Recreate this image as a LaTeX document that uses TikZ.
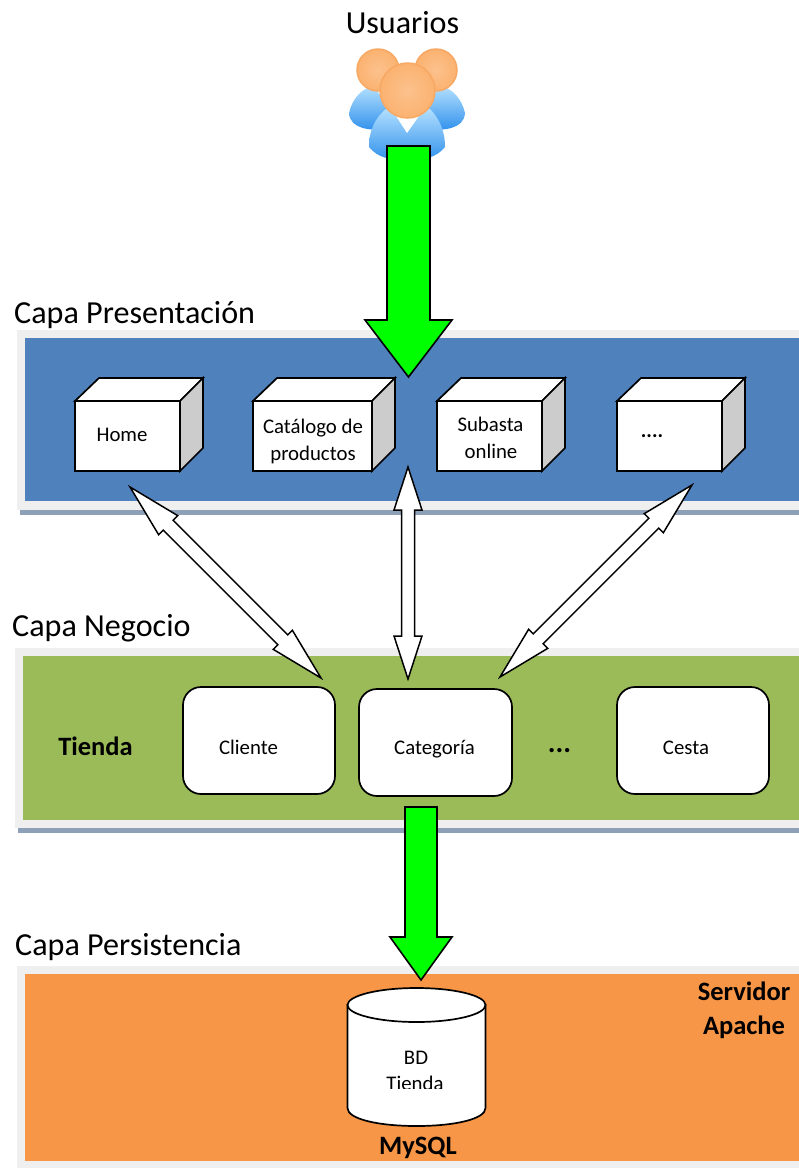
\documentclass[tikz,border=0pt]{standalone}
\usepackage{fontspec}
\setmainfont{Carlito}
\usetikzlibrary{calc,shapes.geometric}
\definecolor{bandgrey}{HTML}{EFEFEF}
\definecolor{bandshadow}{HTML}{8E9FB8}
\definecolor{layerblue}{HTML}{4F81BD}
\definecolor{layergreen}{HTML}{9BBB59}
\definecolor{layerorange}{HTML}{F79646}
\definecolor{sidegrey}{HTML}{CCCCCC}
\definecolor{headfill}{HTML}{FBB270}
\definecolor{headrim}{HTML}{F7A964}
\definecolor{bodytop}{HTML}{B4E0FF}
\definecolor{bodybot}{HTML}{3292EC}
\tikzset{
  outline/.style={draw=black,line width=1.7pt,line join=miter},
  roundbox/.style={outline,fill=white,rounded corners=18pt,outer sep=0pt,inner sep=0pt},
  greenarrow/.style={outline,fill=green,line width=1.6pt},
  whitearrow/.style={outline,fill=white,line width=1.5pt},
  title/.style={inner sep=0pt,anchor=base west,font=\fontsize{32.1}{36}\selectfont},
  boxtext/.style={inner sep=0pt,anchor=base,font=\fontsize{20.8}{25}\selectfont},
  boldtext/.style={inner sep=0pt,anchor=base,font=\fontsize{26.5}{30}\selectfont\bfseries},
  bodyshape/.style={draw=none,top color=bodytop,bottom color=bodybot},
  headshape/.style={draw=headrim,line width=1.5pt,circle,inner sep=0pt,outer sep=0pt,inner color=headfill!80!white,outer color=headfill},
}
\newcommand{\layerband}[6]{% x left, grey top, inner top, inner bottom, grey bottom, colour
  \fill[bandshadow] (#1+3,#5) rectangle (799,#5+5);
  \fill[bandgrey] (#1,#2) rectangle (799,#5);
  \fill[#6] (#1+8,#3) rectangle (799,#4);
}
\newcommand{\cubebox}[3]{% name, x left, x right of the front face
  \draw[outline,fill=white] (#2,401) -- (#2+24,378) -- (#3+23,378) -- (#3,401) -- cycle;
  \draw[outline,fill=sidegrey] (#3,401) -- (#3+23,378) -- (#3+23,448) -- (#3,471) -- cycle;
  \node[outline,fill=white,inner sep=0pt,outer sep=0pt,minimum width=#3pt-#2pt,minimum height=70pt,anchor=north west] (#1) at (#2,401) {};
}
\newcommand{\dblarrow}[5]{% tip a, tip b, head length, head half-width, shaft half-width
  \coordinate (pa) at ($(#1)!#3!(#2)$);
  \coordinate (pb) at ($(#2)!#3!(#1)$);
  \draw[whitearrow] (#1)
    -- ($(pa)!#4!90:(#1)$) -- ($(pa)!#5!90:(#1)$)
    -- ($(pb)!#5!-90:(#2)$) -- ($(pb)!#4!-90:(#2)$)
    -- (#2)
    -- ($(pb)!#4!90:(#2)$) -- ($(pb)!#5!90:(#2)$)
    -- ($(pa)!#5!-90:(#1)$) -- ($(pa)!#4!-90:(#1)$)
    -- cycle;
}
\newcommand{\sglarrow}[5]{% tail, tip, head length, head half-width, shaft half-width
  \coordinate (pa) at ($(#2)!#3!(#1)$);
  \draw[greenarrow] (#2)
    -- ($(pa)!#4!90:(#2)$) -- ($(pa)!#5!90:(#2)$)
    -- ($(#1)!#5!90:(#2)$) -- ($(#1)!#5!-90:(#2)$)
    -- ($(pa)!#5!-90:(#2)$) -- ($(pa)!#4!-90:(#2)$)
    -- cycle;
}
\begin{document}
\begin{tikzpicture}[x=1pt,y=-1pt]
\useasboundingbox (0,0) rectangle (799,1168);
\fill[white] (0,0) rectangle (799,1168);

% layer bands
\layerband{17}{330}{338}{501}{510}{layerblue}
\layerband{15}{648}{656}{820}{828}{layergreen}
\fill[bandgrey] (17,966) rectangle (799,1168);
\fill[layerorange] (25,974) rectangle (799,1161);

% users icon
\path[bodyshape] (349,113) .. controls (352,100) and (360,90) .. (372,86)
  -- (395,110) -- (385,130) .. controls (372,130) and (350,130) .. (349,113) -- cycle;
\path[bodyshape] (465,113) .. controls (462,100) and (454,90) .. (442,86)
  -- (419,110) -- (429,130) .. controls (442,130) and (464,130) .. (465,113) -- cycle;
\node[headshape,minimum size=42pt] (headl) at (378,70) {};
\node[headshape,minimum size=42pt] (headr) at (436,70) {};
\path[bodyshape] (369,147) .. controls (369,130) and (375,118) .. (387,108)
  -- (429,108) .. controls (439,118) and (445,130) .. (445,147)
  .. controls (436,158) and (424,160) .. (407,160) .. controls (390,160) and (378,158) .. (369,147) -- cycle;
\fill[white] (396,116) -- (407,133) -- (419,116) -- cycle;
\node[headshape,minimum size=55pt] (headc) at (407.5,90.5) {};

% presentation modules
\cubebox{home}{75}{180}
\cubebox{catalogo}{253}{372}
\cubebox{subasta}{437}{542}
\cubebox{otros}{617}{722}

% business modules
\node[roundbox,minimum width=152pt,minimum height=107pt,anchor=north west] (cliente) at (183,687) {};
\node[roundbox,minimum width=153pt,minimum height=107pt,anchor=north west] (categoria) at (359,689) {};
\node[roundbox,minimum width=152pt,minimum height=107pt,anchor=north west] (cesta) at (617,687) {};

% database
\draw[outline,fill=white] (347.5,1005) -- (347.5,1108)
  .. controls (347.5,1119) and (378,1126) .. (416.5,1126)
  .. controls (455,1126) and (485.5,1119) .. (485.5,1108) -- (485.5,1005) -- cycle;
\node[outline,fill=white,ellipse,inner sep=0pt,outer sep=0pt,minimum width=138pt,minimum height=34pt] (bdtop) at (416.5,1005) {};

% connector end points
\coordinate (usertail) at (408.5,146);
\coordinate (usertip) at (408.5,377);
\coordinate (hometip) at (130,487);
\coordinate (clientetip) at (321,678);
\coordinate (cattop) at (408,467);
\coordinate (catbot) at (408,679);
\coordinate (otrostip) at (692,485);
\coordinate (cattip) at (500,677);
\coordinate (bdtail) at (421,807);
\coordinate (bdtip) at (421,980);

% connectors
\sglarrow{usertail}{usertip}{57pt}{43.5pt}{21.5pt}
\sglarrow{bdtail}{bdtip}{43pt}{31pt}{16pt}
\dblarrow{hometip}{clientetip}{54pt}{13.5pt}{7pt}
\dblarrow{cattop}{catbot}{43pt}{14pt}{6.5pt}
\dblarrow{otrostip}{cattip}{54pt}{13.5pt}{7pt}

% texts
\node[title,anchor=base] (usuarios) at (402.5,33.5) {Usuarios};
\node[title] (tpres) at (14,323) {Capa Presentación};
\node[title] (tneg) at (12,636) {Capa Negocio};
\node[title] (tpers) at (15,955) {Capa Persistencia};

\node[boxtext] (thome) at (122,441.5) {Home};
\node[boxtext] (tcat1) at (313,433.5) {Catálogo de};
\node[boxtext] (tcat2) at (313,460.5) {productos};
\node[boxtext] (tsub1) at (490.5,431.5) {Subasta};
\node[boxtext] (tsub2) at (491,458.5) {online};
\node[boxtext] (totros) at (652,437.5) {\bfseries ....};

\node[boxtext] (tcli) at (248.5,754.5) {Cliente};
\node[boxtext] (tcateg) at (434.5,754.5) {Categoría};
\node[boxtext] (tcesta) at (686,754.5) {Cesta};
\node[boxtext,font=\fontsize{29}{32}\selectfont\bfseries] (tdots) at (559.5,752) {...};
\node[boldtext] (ttienda) at (95.5,755) {Tienda};

\node[boldtext] (tserv) at (744,1000) {Servidor};
\node[boldtext] (tapache) at (744,1034) {Apache};
\node[boldtext] (tmysql) at (418,1154) {MySQL};
\node[boxtext] (tbd) at (416,1064.5) {BD};
\begin{scope}
  \clip (380,1070) rectangle (450,1088);
  \node[boxtext] (tbdt) at (415,1090.5) {Tienda};
\end{scope}
\end{tikzpicture}
\end{document}
